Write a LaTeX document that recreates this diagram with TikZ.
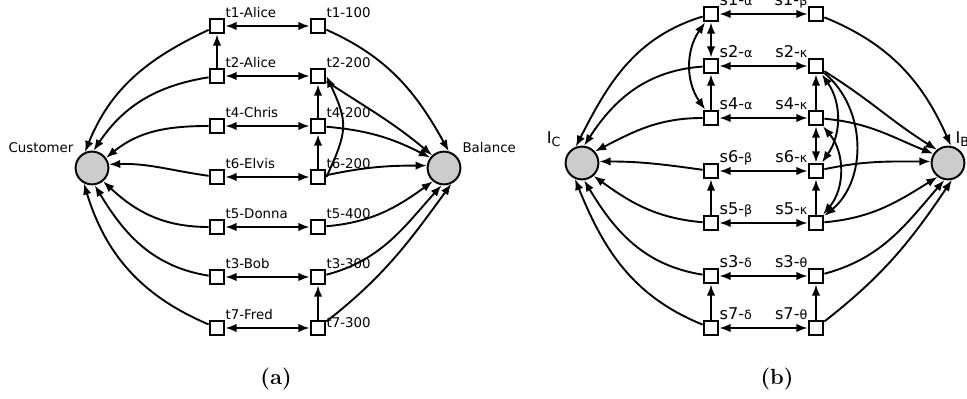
\documentclass[tikz,border=0pt]{standalone}
\usepackage{fontspec}
\newfontfamily\dejavu{DejaVu Sans}
\usetikzlibrary{positioning,calc,arrows.meta}
\newcommand\gk[1]{{\fontsize{9}{9}\selectfont #1}}

\begin{document}
\begin{tikzpicture}[x=0.025cm, y=0.025cm,
		tup/.style={shape=rectangle, draw, line width=1.4pt, fill=white, minimum size=0.37cm, inner sep=0pt},
		tbl/.style={shape=circle, draw, line width=1.4pt, fill=gray!40, minimum size=0.82cm, inner sep=0pt},
		arr/.style={line width=1.35pt, -{Latex[length=8pt,width=6pt]}},
		dbl/.style={line width=1.35pt, {Latex[length=8pt,width=6pt]}-{Latex[length=8pt,width=6pt]}},
		lbla/.style={font=\dejavu\fontsize{9.5}{10}\selectfont, inner sep=0pt},
		lblb/.style={font=\dejavu\fontsize{11.5}{12}\selectfont, inner sep=0pt}]
		\useasboundingbox (0,0) rectangle (967,399);

		\node[tbl] (cust) at (92, 231) {};
		\node[tbl] (bal) at (444, 231) {};
		\node[lbla, anchor=base east] at ($(cust.north west)+(-6,3)$) {Customer};
		\node[lbla, anchor=base west] at ($(bal.north east)+(6,3)$) {Balance};

		\node[tup, label={[lbla, anchor=base west]north east:t1-Alice}] (c1) at (217, 373) {};
		\node[tup, label={[lbla, anchor=base west]north east:t2-Alice}] (c2) at (217, 323) {};
		\node[tup, label={[lbla, anchor=base west]north east:t4-Chris}] (c4) at (217, 273) {};
		\node[tup, label={[lbla, anchor=base west]north east:t6-Elvis}] (c6) at (217, 222) {};
		\node[tup, label={[lbla, anchor=base west]north east:t5-Donna}] (c5) at (217, 172) {};
		\node[tup, label={[lbla, anchor=base west]north east:t3-Bob}] (c3) at (217, 122) {};
		\node[tup, label={[lbla, anchor=base west]north east:t7-Fred}] (c7) at (217, 71) {};

		\node[tup, label={[lbla, anchor=base west]north east:t1-100}] (b1) at (318, 373) {};
		\node[tup, label={[lbla, anchor=base west]north east:t2-200}] (b2) at (318, 323) {};
		\node[tup, label={[lbla, anchor=base west]north east:t4-200}] (b4) at (318, 273) {};
		\node[tup, label={[lbla, anchor=base west]north east:t6-200}] (b6) at (318, 222) {};
		\node[tup, label={[lbla, anchor=base west]north east:t5-400}] (b5) at (318, 172) {};
		\node[tup, label={[lbla, anchor=base west]north east:t3-300}] (b3) at (318, 122) {};
		\node[tup, label={[lbla, anchor=base west]east:t7-300}] (b7) at (318, 71) {};

		\draw[dbl] (c1) -- (b1);
		\draw[dbl] (c2) -- (b2);
		\draw[dbl] (c4) -- (b4);
		\draw[dbl] (c6) -- (b6);
		\draw[dbl] (c5) -- (b5);
		\draw[dbl] (c3) -- (b3);
		\draw[dbl] (c7) -- (b7);

		\draw[arr] (c2) -- (c1);
		\draw[arr] (b4) -- (b2);
		\draw[arr] (b6) -- (b4);
		\draw[arr] (b7) -- (b3);
		\draw[arr] (b6.east) to[out=65, in=-65, looseness=1.3] (b2.east);

		\draw[arr] (c1) to[out=205, in=68] (cust.114);
		\draw[arr] (c2) to[out=189, in=56] (cust.85);
		\draw[arr] (c4) to[out=180, in=39] (cust.36);
		\draw[arr] (c6) to[out=172, in=2] (cust.12);
		\draw[arr] (c5) to[out=180, in=-43] (cust.-50);
		\draw[arr] (c3) to[out=171, in=-59] (cust.-81);
		\draw[arr] (c7) to[out=157, in=-73] (cust.-118);

		\draw[arr] (b1) to[out=-24, in=119] (bal.74);
		\draw[arr] (b2) to[out=-33, in=140] (bal.133);
		\draw[arr] (b4) to[out=-5, in=153] (bal.143);
		\draw[arr] (b6) to[out=12, in=180] (bal.172);
		\draw[arr] (b5) to[out=5, in=216] (bal.230);
		\draw[arr] (b3) to[out=15, in=228] (bal.262);
		\draw[arr] (b7) to[out=38, in=234] (bal.295);

		\node[tbl] (ic) at (582, 236) {};
		\node[tbl] (ib) at (948, 236) {};
		\node[lblb, anchor=base east] at ($(ic.north west)+(-9,7)$) {I\raisebox{-2pt}{\gk{C}}};
		\node[lblb, anchor=base west] at ($(ib.north east)+(-5,7)$) {I\raisebox{-2pt}{\gk{B}}};

		\node[tup, label={[lblb, anchor=base west]north east:s1-\gk{α}}] (l1) at (711, 385) {};
		\node[tup, label={[lblb, anchor=base west]north east:s2-\gk{α}}] (l2) at (711, 333) {};
		\node[tup, label={[lblb, anchor=base west]north east:s4-\gk{α}}] (l4) at (711, 281) {};
		\node[tup, label={[lblb, anchor=base west]north east:s6-\gk{β}}] (l6) at (711, 228) {};
		\node[tup, label={[lblb, anchor=base west]north east:s5-\gk{β}}] (l5) at (711, 176) {};
		\node[tup, label={[lblb, anchor=base west]north east:s3-\gk{δ}}] (l3) at (711, 123) {};
		\node[tup, label={[lblb, anchor=base west]north east:s7-\gk{δ}}] (l7) at (711, 71) {};

		\node[tup, label={[lblb, anchor=base east]north west:s1-\gk{β}}] (r1) at (816, 385) {};
		\node[tup, label={[lblb, anchor=base east]north west:s2-\gk{κ}}] (r2) at (816, 333) {};
		\node[tup, label={[lblb, anchor=base east]north west:s4-\gk{κ}}] (r4) at (816, 281) {};
		\node[tup, label={[lblb, anchor=base east]north west:s6-\gk{κ}}] (r6) at (816, 228) {};
		\node[tup, label={[lblb, anchor=base east]north west:s5-\gk{κ}}] (r5) at (816, 176) {};
		\node[tup, label={[lblb, anchor=base east]north west:s3-\gk{θ}}] (r3) at (816, 123) {};
		\node[tup, label={[lblb, anchor=base east]north west:s7-\gk{θ}}] (r7) at (816, 71) {};

		\draw[dbl] (l1) -- (r1);
		\draw[dbl] (l2) -- (r2);
		\draw[dbl] (l4) -- (r4);
		\draw[dbl] (l6) -- (r6);
		\draw[dbl] (l5) -- (r5);
		\draw[dbl] (l3) -- (r3);
		\draw[dbl] (l7) -- (r7);

		\draw[dbl] (l1) -- (l2);
		\draw[arr] (l4) -- (l2);
		\draw[arr] (l5) -- (l6);
		\draw[arr] (l7) -- (l3);
		\draw[dbl] (l1) to[bend right=35] (l4);

		\draw[arr] (r4) -- (r2);
		\draw[dbl] (r4) -- (r6);
		\draw[arr] (r5) -- (r6);
		\draw[arr] (r7) -- (r3);
		\draw[dbl] (r2) to[bend left=35] (r6);
		\draw[arr] (r2) to[bend left=50] (r5);
		\draw[dbl] (r4) to[bend left=40] (r5);

		\draw[arr] (l1) to[out=197, in=63] (ic.111);
		\draw[arr] (l2) to[out=184, in=57] (ic.83);
		\draw[arr] (l4) to[out=180, in=27] (ic.42);
		\draw[arr] (l6) to[out=172, in=0] (ic.5);
		\draw[arr] (l5) to[out=175, in=-36] (ic.-48);
		\draw[arr] (l3) to[out=171, in=-59] (ic.-83);
		\draw[arr] (l7) to[out=158, in=-68] (ic.-114);

		\draw[arr] (r1) to[out=-22, in=114] (ib.80);
		\draw[arr] (r2) to[out=-32, in=148] (ib.130);
		\draw[arr] (r4) to[out=-5, in=158] (ib.148);
		\draw[arr] (r6) to[out=12, in=180] (ib.175);
		\draw[arr] (r5) to[out=5, in=212] (ib.233);
		\draw[arr] (r3) to[out=15, in=229] (ib.258);
		\draw[arr] (r7) to[out=38, in=236] (ib.283);

		\node[font=\fontsize{15.6}{18}\selectfont\bfseries] (capa) at (276, 20) {(a)};
		\node[font=\fontsize{15.6}{18}\selectfont\bfseries] (capb) at (777, 20) {(b)};
	\end{tikzpicture}
\end{document}
